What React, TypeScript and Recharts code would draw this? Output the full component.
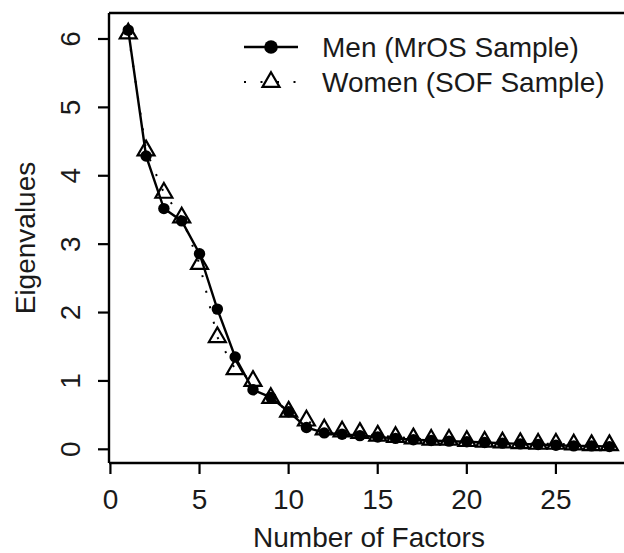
import { LineChart, Line, XAxis, YAxis, ReferenceLine } from 'recharts';

const FONT = '"Liberation Sans", Arial, sans-serif';

const factors = [1, 2, 3, 4, 5, 6, 7, 8, 9, 10, 11, 12, 13, 14, 15, 16, 17, 18, 19, 20, 21, 22, 23, 24, 25, 26, 27, 28];
const men = [6.13, 4.29, 3.52, 3.34, 2.86, 2.05, 1.35, 0.87, 0.76, 0.55, 0.32, 0.24, 0.22, 0.2, 0.18, 0.16, 0.14, 0.13, 0.12, 0.11, 0.1, 0.09, 0.08, 0.07, 0.06, 0.05, 0.05, 0.04];
const women = [6.08, 4.37, 3.75, 3.39, 2.71, 1.64, 1.17, 1.0, 0.75, 0.55, 0.42, 0.29, 0.26, 0.24, 0.2, 0.18, 0.16, 0.14, 0.14, 0.12, 0.11, 0.1, 0.09, 0.08, 0.08, 0.07, 0.06, 0.06];
const xTicks = [0, 5, 10, 15, 20, 25];
const yTicks = [0, 1, 2, 3, 4, 5, 6];
const seriesNames = ['Men (MrOS Sample)', 'Women (SOF Sample)'];

const data = factors.map((f, i) => ({ factor: f, men: men[i], women: women[i] }));

// R's pch=2 triangle, centred on its centroid
const triPath = (cx: number, cy: number, r = 6.3) =>
  `M${cx},${cy - 1.555 * r} L${cx + 1.347 * r},${cy + 0.778 * r} L${cx - 1.347 * r},${cy + 0.778 * r} Z`;

const Dot = (props: any) => {
  const { cx, cy, index } = props;
  return <circle key={`m-${index}`} cx={cx} cy={cy} r={5.7} fill="#000" />;
};

const Tri = (props: any) => {
  const { cx, cy, index } = props;
  return <path key={`w-${index}`} d={triPath(cx, cy)} fill="none" stroke="#000" strokeWidth={2.2} />;
};

const XTick = ({ x, y, payload }: any) => (
  <text x={x} y={y + 33} textAnchor="middle" fontSize={28} fontFamily={FONT} fill="#1a1a1a">
    {payload.value}
  </text>
);

const YTick = ({ y, payload }: any) => (
  <text x={80} y={y} transform={`rotate(-90, 80, ${y})`} textAnchor="middle" fontSize={28} fontFamily={FONT} fill="#1a1a1a">
    {payload.value}
  </text>
);

export default function App() {
  return (
    <div style={{ position: 'absolute', left: 0, top: 0, width: 624, height: 553, background: '#fff' }}>
      <LineChart width={624} height={553} data={data} margin={{ top: 13, right: 0, bottom: 0, left: 0 }}>
        <XAxis
          type="number"
          dataKey="factor"
          domain={[-0.08, 28.82]}
          ticks={xTicks}
          allowDataOverflow
          height={90}
          tickSize={11}
          axisLine={{ stroke: '#000', strokeWidth: 2.4 }}
          tickLine={{ stroke: '#000', strokeWidth: 2.2 }}
          tick={<XTick />}
          label={{
            content: () => (
              <text x={369} y={547} textAnchor="middle" fontSize={28} fontFamily={FONT} fill="#1a1a1a">
                Number of Factors
              </text>
            ),
          }}
        />
        <YAxis
          type="number"
          domain={[-0.2, 6.38]}
          ticks={yTicks}
          allowDataOverflow
          width={109}
          tickSize={11}
          axisLine={{ stroke: '#000', strokeWidth: 2.4 }}
          tickLine={{ stroke: '#000', strokeWidth: 2.2 }}
          tick={<YTick />}
          label={{
            content: () => (
              <text x={35} y={238} transform="rotate(-90, 35, 238)" textAnchor="middle" fontSize={28} fontFamily={FONT} fill="#1a1a1a">
                Eigenvalues
              </text>
            ),
          }}
        />
        <ReferenceLine y={6.38} stroke="#000" strokeWidth={2.4} />
        <Line
          dataKey="men"
          type="linear"
          stroke="#000"
          strokeWidth={2.4}
          dot={<Dot />}
          activeDot={false}
          isAnimationActive={false}
        />
        <Line
          dataKey="women"
          type="linear"
          stroke="#000"
          strokeWidth={2}
          strokeDasharray="2 14"
          dot={<Tri />}
          activeDot={false}
          isAnimationActive={false}
        />
      </LineChart>
      <svg width={624} height={553} style={{ position: 'absolute', left: 0, top: 0, pointerEvents: 'none' }}>
        <line x1={244} y1={47} x2={298} y2={47} stroke="#000" strokeWidth={2.4} />
        <circle cx={271} cy={47} r={6.8} fill="#000" />
        <line x1={244} y1={82} x2={298} y2={82} stroke="#000" strokeWidth={2} strokeDasharray="2 14.5" />
        <path d={triPath(271, 82)} fill="none" stroke="#000" strokeWidth={2.2} />
        <text x={322} y={57} fontSize={28} fontFamily={FONT} fill="#1a1a1a">{seriesNames[0]}</text>
        <text x={322} y={92} fontSize={28} fontFamily={FONT} fill="#1a1a1a">{seriesNames[1]}</text>
      </svg>
    </div>
  );
}
